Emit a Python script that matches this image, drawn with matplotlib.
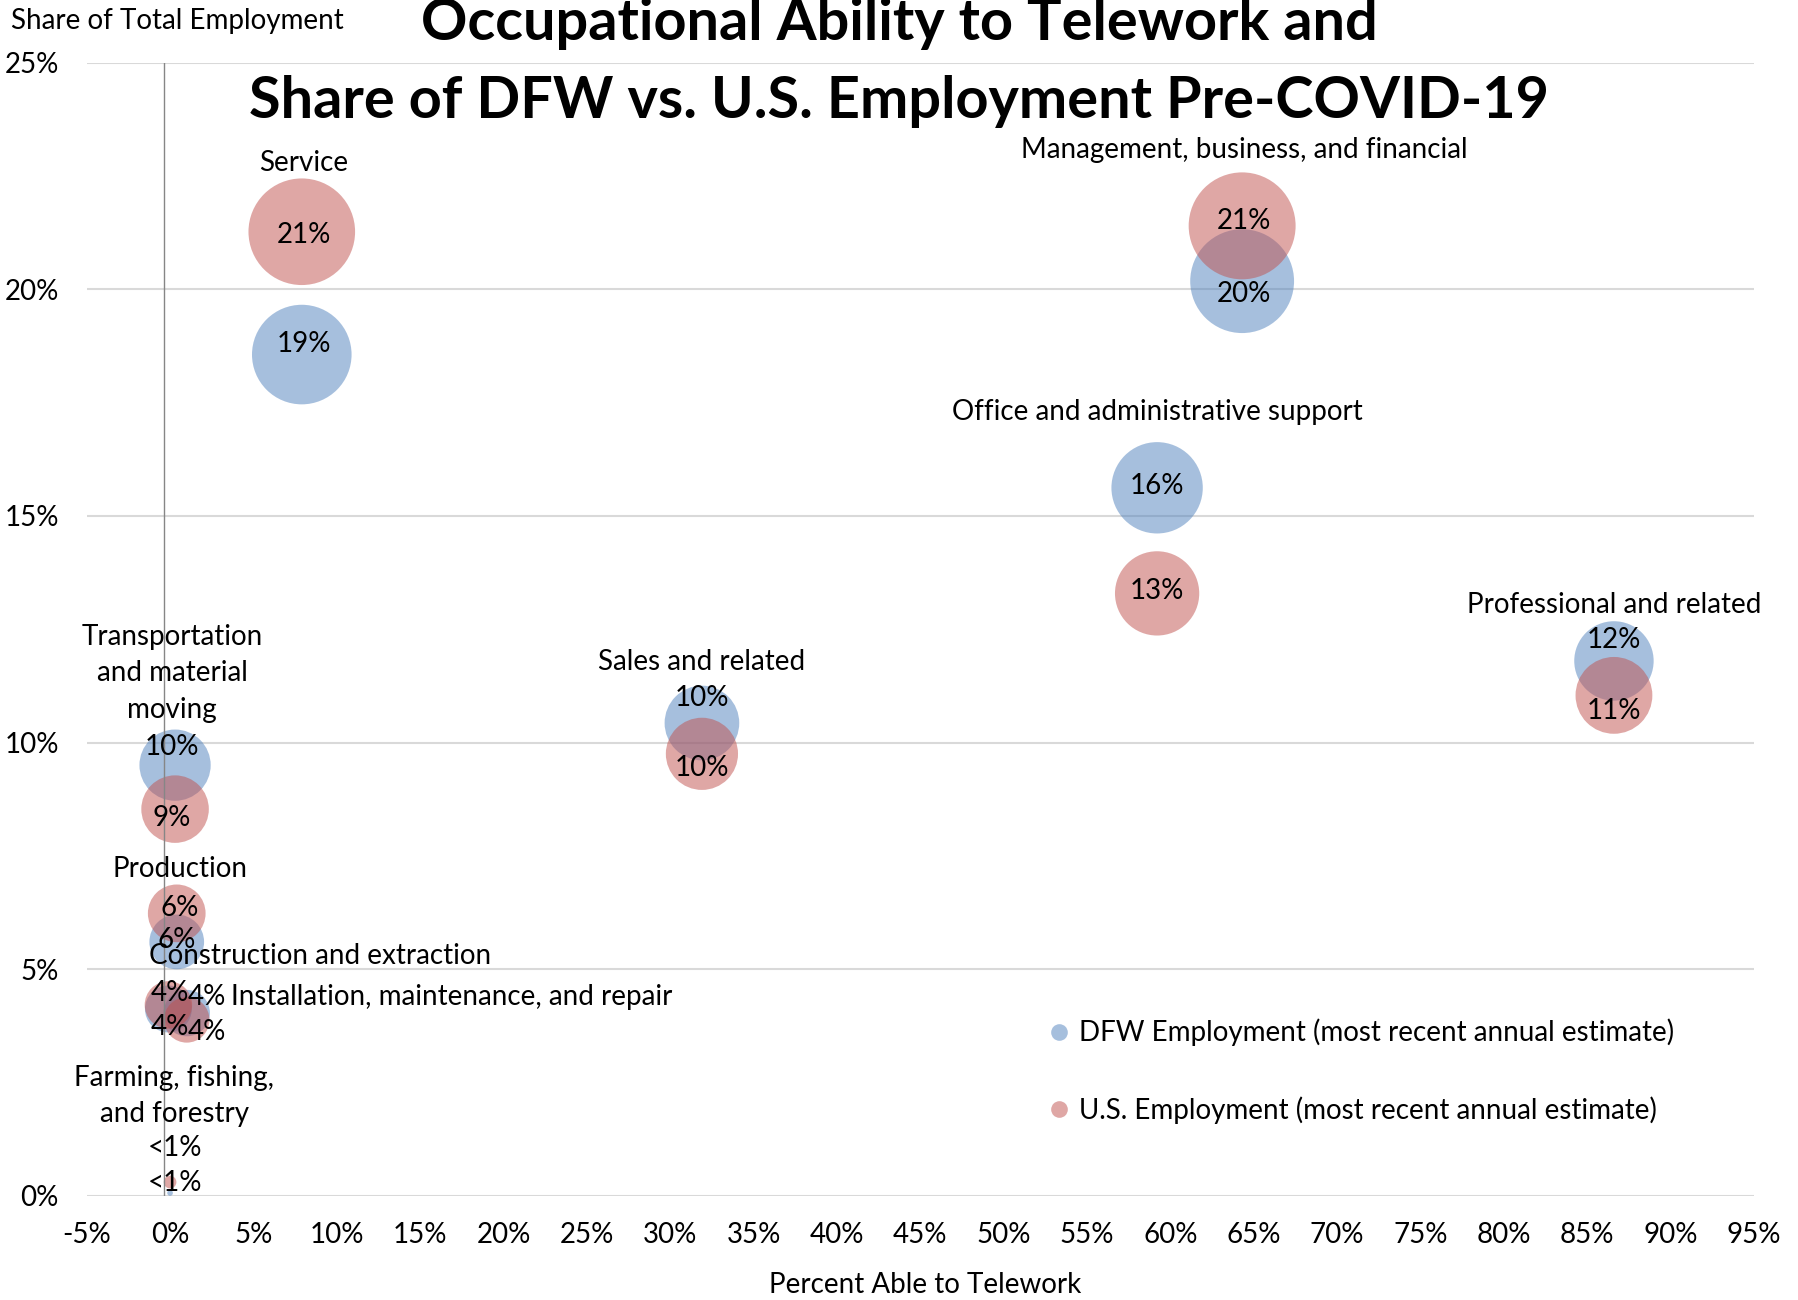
import matplotlib
matplotlib.use("Agg")
import matplotlib.pyplot as plt
from matplotlib.lines import Line2D
import numpy as np

# DATA
categories = ["Service",
              "Management, business, and financial",
              "Office and administrative support",
              "Professional and related",
              "Sales and related",
              "Transportation\nand material\nmoving",
              "Production",
              "Construction and extraction",
              "Installation, maintenance, and repair",
              "Farming, fishing,\nand forestry"]
telework = [7.9, 64.3, 59.2, 86.6, 31.9, 0.3, 0.4, -0.1, 1.0, 0.0]
dfw_share = [18.56, 20.18, 15.62, 11.80, 10.43, 9.50, 5.60, 4.12, 4.03, 0.06]
us_share = [21.27, 21.40, 13.29, 11.04, 9.75, 8.53, 6.23, 4.21, 3.88, 0.30]

x_ticks = np.arange(-5, 96, 5)
y_ticks = np.arange(0, 26, 5)

# LAYOUT (label offsets in pixels from the bubble centre)
dfw_off = [(2, 11), (2, -13), (0, 2), (0, 21), (0, 25), (-3, 18), (0, 2), (1, -18), (20, 16), (5, 10)]
us_off = [(2, -3), (2, 5), (0, 2), (0, -16), (0, -14), (-3, -9), (3, 5), (1, 12), (20, -12), (5, 34)]
cat_off = [(2, 69), (2, 76), (0, 76), (0, 56), (0, 61), (-3, 92), (3, 44), (152, 49), (44, 16), (4, 86)]
cat_ha = ["center"] * 8 + ["left", "center"]

FONT = "Lato"
FS = 20
plt.rcParams["font.family"] = [FONT, "DejaVu Sans"]

blue = "#4F81BD"
red = "#C0504D"
size_k = 277


def pct(v):
    return "<1%" if v < 1 else "%d%%" % round(v)


fig = plt.figure(figsize=(17.99, 13.0), dpi=100)
ax = fig.add_axes([86.7 / 1799, 1 - 1195.7 / 1300, (1754 - 86.7) / 1799, (1195.7 - 62.7) / 1300])

ax.scatter(telework, dfw_share, s=np.array(dfw_share) * size_k, color=blue, alpha=0.5,
           edgecolors="none", zorder=2)
ax.scatter(telework, us_share, s=np.array(us_share) * size_k, color=red, alpha=0.5,
           edgecolors="none", zorder=3)

for i, cat in enumerate(categories):
    ax.annotate(pct(dfw_share[i]), (telework[i], dfw_share[i]), xytext=dfw_off[i],
                textcoords="offset pixels", ha="center", va="center", fontsize=FS, zorder=5)
    ax.annotate(pct(us_share[i]), (telework[i], us_share[i]), xytext=us_off[i],
                textcoords="offset pixels", ha="center", va="center", fontsize=FS, zorder=5)
    top = max(dfw_share[i], us_share[i])
    ax.annotate(cat, (telework[i], top), xytext=cat_off[i], textcoords="offset pixels",
                ha=cat_ha[i], va="center", fontsize=FS, linespacing=1.5, zorder=5)

# vertical axis line (sits a touch left of 0 in the original)
ax.axvline(-0.35, color="#868686", lw=1.0, zorder=4)

ax.set_xlim(-5, 95)
ax.set_ylim(0, 25)
ax.set_xticks(x_ticks)
ax.set_xticklabels(["%d%%" % t for t in x_ticks])
ax.set_yticks(y_ticks)
ax.set_yticklabels(["%d%%" % t for t in y_ticks])
ax.tick_params(length=0, labelsize=FS)
ax.tick_params(axis="x", pad=19)
ax.tick_params(axis="y", pad=20)
ax.yaxis.grid(True, color="#D9D9D9", lw=1.5)
ax.set_axisbelow(True)
for s in ax.spines.values():
    s.set_visible(False)

# LEGEND
handles = [Line2D([], [], ls="", marker="o", ms=12, color=blue, alpha=0.5, mec="none"),
           Line2D([], [], ls="", marker="o", ms=12, color=red, alpha=0.5, mec="none")]
ax.legend(handles, ["DFW Employment (most recent annual estimate)",
                    "U.S. Employment (most recent annual estimate)"],
          loc="center left", bbox_to_anchor=(1048 / 1799, 1 - 1071.5 / 1300),
          bbox_transform=fig.transFigure, frameon=False, fontsize=FS,
          handlelength=0.8, handletextpad=0.3, labelspacing=1.8, borderpad=0,
          borderaxespad=0)

# TITLES
fig.text(0.5, 1 - 24 / 1300, "Occupational Ability to Telework and",
         ha="center", va="center", fontsize=41.5, fontweight="bold")
fig.text(0.5, 1 - 101 / 1300, "Share of DFW vs. U.S. Employment Pre-COVID-19",
         ha="center", va="center", fontsize=41.5, fontweight="bold")
fig.text(11 / 1799, 1 - 21 / 1300, "Share of Total Employment", ha="left", va="center", fontsize=FS)
fig.text(925 / 1799, 1 - 1285 / 1300, "Percent Able to Telework", ha="center", va="center", fontsize=FS)

fig.savefig("out.png", dpi=100)
